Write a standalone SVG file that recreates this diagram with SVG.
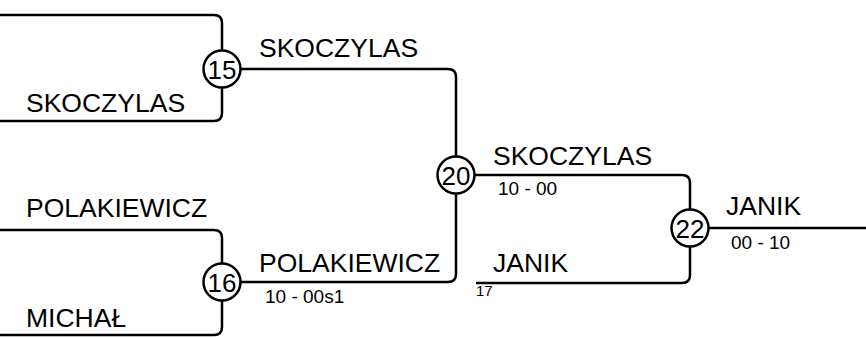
<svg xmlns="http://www.w3.org/2000/svg" width="866" height="338" viewBox="0 0 866 338">
<style>
.c{fill:none;stroke:#000;stroke-width:2.5;stroke-linejoin:round}
.n{fill:#fff;stroke:#000;stroke-width:2.5}
.t{font-family:"Liberation Sans",Arial,sans-serif;font-size:26.5px;fill:#000}
.num{font-family:"Liberation Sans",Arial,sans-serif;font-size:26px;fill:#000;text-anchor:middle}
.s{font-family:"Liberation Sans",Arial,sans-serif;font-size:19px;fill:#000}
.xs{font-family:"Liberation Sans",Arial,sans-serif;font-size:15px;fill:#000}
</style>
<rect width="866" height="338" fill="#fff"/>
<g id="connectors">
<path class="c" d="M0,15 H214 Q222,15 222,23 V52"/>
<path class="c" d="M0,121 H214 Q222,121 222,113 V86"/>
<path class="c" d="M239,69 H448 Q456,69 456,77 V158"/>
<path class="c" d="M0,230 H214 Q222,230 222,238 V265"/>
<path class="c" d="M0,335 H214 Q222,335 222,327 V299"/>
<path class="c" d="M239,282 H448 Q456,282 456,274 V192"/>
<path class="c" d="M473,175 H682 Q690,175 690,183 V211"/>
<path class="c" d="M476,283 H682 Q690,283 690,275 V245"/>
<path class="c" d="M707,228 H866"/>
</g>
<g id="labels">
<text class="t" x="26" y="112">SKOCZYLAS</text>
<text class="t" x="259" y="57">SKOCZYLAS</text>
<text class="t" x="26" y="217">POLAKIEWICZ</text>
<text class="t" x="26" y="327">MICHAŁ</text>
<text class="t" x="259" y="272">POLAKIEWICZ</text>
<text class="s" x="265" y="303">10 - 00s1</text>
<text class="t" x="493" y="165">SKOCZYLAS</text>
<text class="s" x="498" y="195">10 - 00</text>
<text class="t" x="493" y="272">JANIK</text>
<text class="xs" x="476" y="296">17</text>
<text class="t" x="726" y="215">JANIK</text>
<text class="s" x="731" y="249">00 - 10</text>
</g>
<g id="node-15"><circle class="n" cx="222" cy="69" r="18.5"/><text class="num" x="222" y="78.5">15</text></g>
<g id="node-16"><circle class="n" cx="222" cy="282" r="18.5"/><text class="num" x="222" y="291.5">16</text></g>
<g id="node-20"><circle class="n" cx="456" cy="175" r="18.5"/><text class="num" x="456" y="184.5">20</text></g>
<g id="node-22"><circle class="n" cx="690" cy="228" r="18.5"/><text class="num" x="690" y="237.5">22</text></g>
</svg>
